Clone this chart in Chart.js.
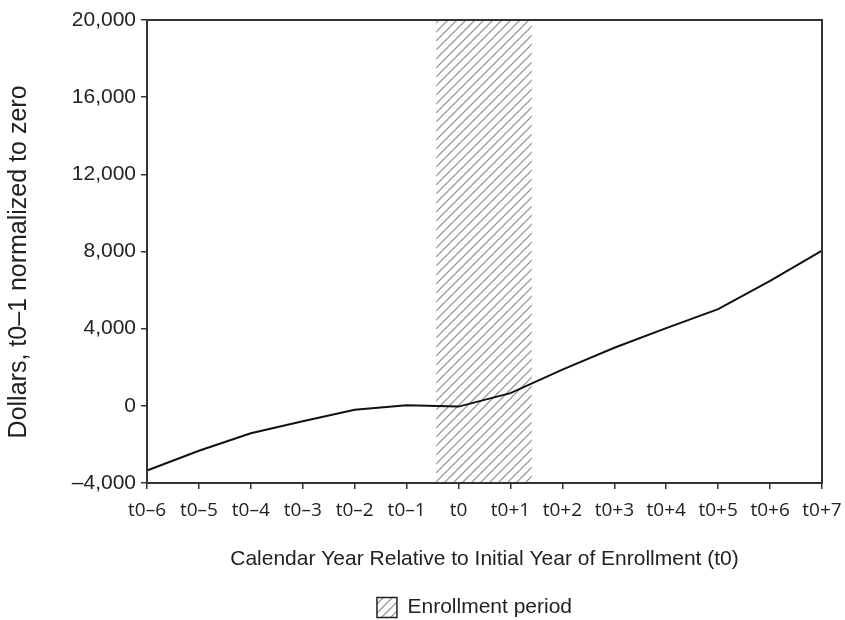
<!DOCTYPE html>
<html>
<head>
<meta charset="utf-8">
<script src="https://cdn.jsdelivr.net/npm/chart.js@4.4.1/dist/chart.umd.min.js"></script>
<style>
  html, body { margin: 0; padding: 0; background: #fff; }
  #wrap { width: 845px; height: 620px; }
</style>
</head>
<body>
<div id="wrap"><canvas id="myChart" width="845" height="620"></canvas></div>
<script>
// data
var years = ["t0\u20136", "t0\u20135", "t0\u20134", "t0\u20133", "t0\u20132", "t0\u20131", "t0",
             "t0+1", "t0+2", "t0+3", "t0+4", "t0+5", "t0+6", "t0+7"];
var dollars = [-3350, -2330, -1420, -800, -200, 30, -40, 660, 1880, 3010, 4030, 5010, 6480, 8050];
var yTicks = [-4000, 0, 4000, 8000, 12000, 16000, 20000];
// enrollment period, in category index units
var enrollStart = 5.57;
var enrollEnd = 7.41;

var sans = "'Liberation Sans', Arial, sans-serif";

/* hatch pattern ------------------------------------ */
function makeHatch() {
    var c = document.createElement("canvas");
    c.width = 9; c.height = 9;
    var g = c.getContext("2d");
    g.strokeStyle = "#9a9a9a";
    g.lineWidth = 1.3;
    g.beginPath();
    g.moveTo(0, 9); g.lineTo(9, 0);
    g.moveTo(-2, 2); g.lineTo(2, -2);
    g.moveTo(7, 11); g.lineTo(11, 7);
    g.stroke();
    return g.createPattern(c, "repeat");
}
var ctx = document.getElementById("myChart").getContext("2d");
var hatch = makeHatch();

var enrollPlugin = {
    id: "enroll",
    beforeDraw: function(chart) {
        // legend sits centred under the plot, a bit lower
        var l = chart.legend;
        if (l && !l._moved) {
            l.left = chart.chartArea.left - 10;
            l.right = chart.chartArea.right - 10;
            l.top += 8; l.bottom += 8;
            l._moved = true;
        }
    },
    beforeDatasetsDraw: function(chart) {
        var a = chart.chartArea, x = chart.scales.x;
        var x0 = x.getPixelForValue(enrollStart);
        var x1 = x.getPixelForValue(enrollEnd);
        var c = chart.ctx;
        c.save();
        c.fillStyle = hatch;
        c.fillRect(x0, a.top, x1 - x0, a.bottom - a.top);
        c.restore();
    },
    afterDatasetsDraw: function(chart) {
        var a = chart.chartArea, c = chart.ctx;
        c.save();
        c.strokeStyle = "#333";
        c.lineWidth = 2;
        c.strokeRect(a.left, a.top, a.right - a.left, a.bottom - a.top);
        c.restore();
    }
};

var myChart = new Chart(ctx, {
    type: "line",
    data: {
        labels: years,
        datasets: [
            {
                label: "Dollars",
                data: dollars,
                borderColor: "#111",
                borderWidth: 2,
                pointRadius: 0,
                tension: 0,
                fill: false
            },
            {
                label: "Enrollment period",
                data: [],
                backgroundColor: hatch,
                borderColor: "#222",
                borderWidth: 1.5
            }
        ]
    },
    plugins: [enrollPlugin],
    options: {
        responsive: false,
        animation: false,
        layout: { padding: { top: 20, right: 23, left: 0, bottom: 0 } },
        plugins: {
            tooltip: { enabled: false },
            legend: {
                position: "bottom",
                labels: {
                    filter: function(item) { return item.text === "Enrollment period"; },
                    boxWidth: 20,
                    boxHeight: 20,
                    padding: 8,
                    color: "#222",
                    font: { family: sans, size: 21 }
                }
            }
        },
        scales: {
            x: {
                type: "category",
                offset: false,
                border: { display: true, color: "#333", width: 2 },
                grid: { display: true, drawOnChartArea: false, drawTicks: true, tickLength: 6, color: "#333", lineWidth: 1.5 },
                ticks: {
                    color: "#222",
                    padding: 10,
                    maxRotation: 0,
                    autoSkip: false,
                    font: { family: "'Open Sans', sans-serif", size: 19 }
                },
                title: {
                    display: true,
                    text: "Calendar Year Relative to Initial Year of Enrollment (t0)",
                    color: "#222",
                    padding: { top: 0, bottom: 9 },
                    font: { family: sans, size: 21 }
                },
                afterFit: function(s) {
                    s.height = 98;
                    s.paddingLeft = 0;
                    s.paddingRight = 0;
                }
            },
            y: {
                min: -4000,
                max: 20000,
                border: { display: true, color: "#333", width: 2 },
                grid: { display: true, drawOnChartArea: false, drawTicks: true, tickLength: 6, color: "#333", lineWidth: 1.5 },
                afterBuildTicks: function(s) {
                    s.ticks = yTicks.map(function(v) { return { value: v }; });
                },
                ticks: {
                    color: "#222",
                    padding: 5,
                    font: { family: sans, size: 21 },
                    callback: function(v) {
                        var s = Math.abs(v).toLocaleString("en-US");
                        return v < 0 ? "\u2013" + s : s;
                    }
                },
                title: {
                    display: true,
                    text: "Dollars, t0\u20131 normalized to zero   ",
                    color: "#222",
                    padding: { top: 4, bottom: 0 },
                    font: { family: sans, size: 25 }
                },
                afterFit: function(s) { s.width = 147; }
            }
        }
    }
});
</script>
</body>
</html>
